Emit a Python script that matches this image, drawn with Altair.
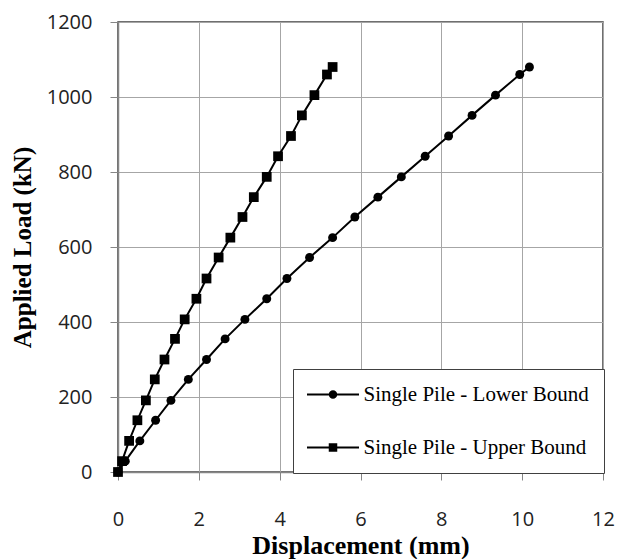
import altair as alt
import pandas as pd

series_names = ["Single Pile - Lower Bound", "Single Pile - Upper Bound"]

load_kn = [0, 29, 83, 138, 191, 247, 300, 355, 407, 462, 516, 572, 625, 680,
           733, 787, 842, 896, 951, 1005, 1060, 1080]
lower_disp = [0, 0.18, 0.54, 0.93, 1.31, 1.74, 2.19, 2.65, 3.14, 3.68, 4.18,
              4.74, 5.31, 5.86, 6.43, 7.01, 7.60, 8.18, 8.76, 9.34, 9.94, 10.18]
upper_disp = [0, 0.10, 0.275, 0.48, 0.69, 0.91, 1.15, 1.41, 1.65, 1.94, 2.19,
              2.49, 2.78, 3.08, 3.36, 3.68, 3.96, 4.28, 4.55, 4.86, 5.17, 5.31]

x_ticks = [0, 2, 4, 6, 8, 10, 12]
y_ticks = [0, 200, 400, 600, 800, 1000, 1200]

rows = []
for d, l in zip(lower_disp, load_kn):
    rows.append({"disp": d, "load": l, "series": series_names[0]})
for d, l in zip(upper_disp, load_kn):
    rows.append({"disp": d, "load": l, "series": series_names[1]})
df = pd.DataFrame(rows)

# legend symbols: a short line with the marker on it (unit path, scaled by Vega)
line_part = "M-5.2,-0.2H5.2V0.2H-5.2Z"
circle_path = line_part + "M0.85,0A0.85,0.85 0 1 1 -0.85,0A0.85,0.85 0 1 1 0.85,0Z"
square_path = line_part + "M-0.85,-0.85H0.85V0.85H-0.85Z"

x_enc = alt.X("disp:Q", scale=alt.Scale(domain=[0, 12], nice=False),
              axis=alt.Axis(values=x_ticks, title="Displacement (mm)", format="d",
                            labelFlush=False, titleY=73, titleBaseline="middle"))
y_enc = alt.Y("load:Q", scale=alt.Scale(domain=[0, 1200], nice=False),
              axis=alt.Axis(values=y_ticks, title="Applied Load (kN)", format="d",
                            labelFlush=False, titleX=-96, titleBaseline="middle",
                            labelPadding=18))

lines = alt.Chart(df).mark_line(color="black", strokeWidth=2).encode(
    x=x_enc, y=y_enc, detail="series:N"
)

points = alt.Chart(df).mark_point(filled=True, opacity=1, color="black").encode(
    x=x_enc,
    y=y_enc,
    shape=alt.Shape("series:N",
                    scale=alt.Scale(domain=series_names, range=["circle", "square"]),
                    legend=None),
    size=alt.Size("series:N",
                  scale=alt.Scale(domain=series_names, range=[80, 95]),
                  legend=None),
)

legend_layer = alt.Chart(df).mark_point(
    filled=True, color="black", opacity=0, size=100
).encode(
    x=x_enc,
    y=y_enc,
    shape=alt.Shape(
        "series:N",
        scale=alt.Scale(domain=series_names, range=[circle_path, square_path]),
        legend=alt.Legend(
            title=None,
            orient="none",
            legendX=175,
            legendY=347,
            padding=15,
            symbolSize=100,
            symbolOffset=14.5,
            symbolOpacity=1,
            symbolFillColor="black",
            symbolStrokeColor="black",
            symbolStrokeWidth=0.5,
            labelOffset=20,
            rowPadding=31,
            labelFont="Liberation Serif",
            labelFontSize=21,
            labelColor="black",
            labelLimit=400,
            strokeColor="#404040",
            fillColor="white",
        ),
    ),
)

chart = alt.layer(lines, points, legend_layer).resolve_scale(
    shape="independent"
).properties(
    width=485,
    height=450,
    autosize=alt.AutoSizeParams(type="none"),
    padding={"left": 110, "top": 14, "right": 12, "bottom": 87},
    background="white",
).configure_view(
    stroke="#404040", strokeWidth=1.5
).configure_axis(
    grid=True,
    gridColor="#a6a6a6",
    gridWidth=1,
    domainColor="#868686",
    domainWidth=1.5,
    tickColor="#868686",
    tickSize=8,
    labelFont="Open Sans",
    labelFontSize=20,
    labelColor="#222222",
    titleFont="Liberation Serif",
    titleFontWeight="bold",
    titleFontSize=25,
    titleColor="black",
).configure_axisX(
    labelPadding=29,
    titleFontSize=26,
)

chart.save("out.html", embed_options={"renderer": "svg", "actions": False})
